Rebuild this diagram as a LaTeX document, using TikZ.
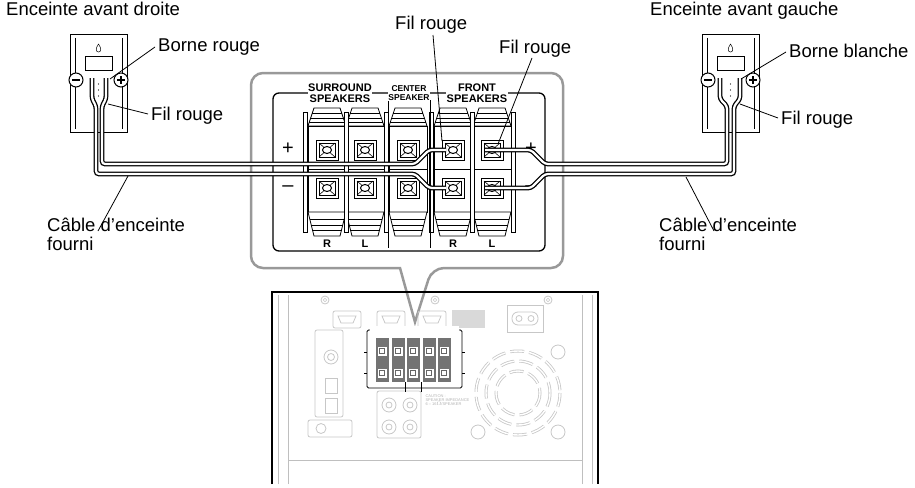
\documentclass[tikz,border=0pt]{standalone}
\usepackage{fontspec}
\setmainfont{Liberation Sans}
\begin{document}
\begin{tikzpicture}[x=1pt,y=-1pt,
  lbl/.style={font=\fontsize{18.5}{19}\selectfont, inner sep=0pt, anchor=base west, align=left},
  lead/.style={line width=0.8pt},
  wire/.style={draw=black, double=white, double distance=2.2pt, line width=1.3pt, rounded corners=3pt},
  pnl/.style={font=\fontsize{11}{10.5}\selectfont\bfseries, inner sep=0.5pt, fill=white, align=center},
  lt/.style={draw=black!22, line width=0.8pt},
  ]
\useasboundingbox (0,0) rectangle (915,487);

% ---------------- speakers ----------------
\foreach \sx/\nm in {70/spL,702/spR}{
  \begin{scope}[shift={(\sx,0)}]
  \draw[line width=1pt] (0,35) rectangle (57,132);
  \draw[line width=0.6pt] (5,38) -- (5,129) (52,38) -- (52,129);
  \draw[line width=0.6pt] (15,56) rectangle (42,70);
  \draw[line width=0.5pt] (28.5,44) .. controls (25,49) and (26,52) .. (28.5,52) .. controls (31,52) and (32,49) .. (28.5,44);
  \draw[line width=1pt, fill=white] (6,80) circle (7);
  \draw[line width=1.4pt] (2,80) -- (10,80);
  \draw[line width=1pt, fill=white] (51,80) circle (7);
  \draw[line width=1.4pt] (47,80) -- (55,80) (51,76) -- (51,84);
  \foreach \yy in {84,90,96}{\fill (28.5,\yy) circle (0.6);}
  \end{scope}}
\coordinate (spL) at (98,80);
\coordinate (spR) at (730,80);

% ---------------- panel callout ----------------
\draw[black!40, line width=2.5pt] [rounded corners=12pt] (400,268) -- (251,268) -- (251,73) -- (563,73) -- (563,268) -- (432,268) [sharp corners] -- (415,322) -- cycle;
\draw[line width=1.3pt, rounded corners=6pt] (273,93) rectangle (545,251);

% terminals
\foreach \cx in {327,365,408,453,492}{
  \begin{scope}[shift={(\cx,0)}]
  \draw[line width=0.8pt, fill=white] (-13,108) -- (13,108) -- (19,126) -- (-19,126) -- cycle;
  \foreach \yy/\w in {113/15,118/17,122/18}{\draw[line width=0.5pt] (-\w,\yy) -- (\w,\yy);}
  \draw[line width=0.8pt] (-19,126) rectangle (19,212);
  \draw[line width=0.8pt] (-19,169) -- (19,169);
  \draw[line width=0.8pt, fill=white] (-19,212) -- (19,212) -- (13,236) -- (-13,236) -- cycle;
  \foreach \yy/\w in {219/17,225/16,230/15}{\draw[line width=0.5pt] (-\w,\yy) -- (\w,\yy);}
  \foreach \yy in {150,188}{
    \draw[line width=0.9pt] (-11,\yy-10) rectangle (11,\yy+10);
    \draw[line width=0.5pt] (-8,\yy-7) rectangle (8,\yy+7);
    \draw[line width=0.6pt] (-8,\yy-7) -- (8,\yy+7) (-8,\yy+7) -- (8,\yy-7);
    \draw[line width=1pt, fill=white] (0,\yy) ellipse (4.5 and 3.5);}
  \end{scope}}
\foreach \cx in {305,346,386,431,472,513}{
  \draw[line width=0.8pt, fill=white] (\cx-2,112) rectangle (\cx+2,232);}
\draw[line width=1pt] (388,100) -- (388,248) (430,100) -- (430,248);

\node[pnl] (sur) at (340,93) {SURROUND\\SPEAKERS};
\node[pnl, font=\fontsize{8.5}{9}\selectfont\bfseries] (cen) at (409,93) {CENTER\\SPEAKER};
\node[pnl] (fro) at (477,93) {FRONT\\SPEAKERS};
\node[font=\fontsize{20}{20}\selectfont] (pp1) at (288,149) {+};
\node[font=\fontsize{20}{20}\selectfont] (mm1) at (288,189) {--};
\node[font=\fontsize{20}{20}\selectfont] (pp2) at (531,149) {+};
\node[font=\fontsize{20}{20}\selectfont] (mm2) at (531,189) {--};
\foreach \cx/\t/\n in {327/R/r1,365/L/l1,453/R/r2,492/L/l2}{
  \node[font=\fontsize{11}{11}\selectfont\bfseries] (\n) at (\cx,244) {\t};}

% ---------------- cables ----------------
\draw[wire] (92,78) -- (92,99) -- (96,106) -- (96,174) -- (415,174) -- (429,188) -- (446,188);
\draw[wire] (106,78) -- (106,99) -- (102,106) -- (102,164) -- (415,164) -- (429,150) -- (446,150);
\draw[wire] (720,78) -- (720,99) -- (727,106) -- (727,164) -- (545,164) -- (531,150) -- (485,150);
\draw[wire] (740,78) -- (740,99) -- (734,106) -- (734,174) -- (545,174) -- (531,188) -- (485,188);

% ---------------- device rear ----------------
\draw[line width=1.4pt] (272,484) -- (272,292) -- (598,292) -- (598,484);
\draw[black!25, line width=1pt] (278,484) -- (278,295) (288,484) -- (288,295) (582,484) -- (582,295) (592,484) -- (592,295);
\draw[black!25, line width=1pt] (288,460) -- (582,460);
\foreach \p in {(325,300),(435,300),(548,300)}{\draw[lt] \p circle (4); \draw[lt,line width=0.5pt] \p circle (1.8);}
\foreach \hx in {333,377,418}{\draw[lt, rounded corners=2pt] (\hx,311) rectangle (\hx+28,328); \draw[lt] (\hx+5,316) -- (\hx+23,316) -- (\hx+20,323) -- (\hx+8,323) -- cycle;}
\fill[black!15] (452,310) rectangle (485,328);
\draw[lt] (507,305) rectangle (543,332);
\draw[lt, rounded corners=6pt] (512,312) rectangle (538,325);
\draw[lt] (519,318.5) circle (3) (531,318.5) circle (3);
\draw[lt, rounded corners=2pt] (315,330) rectangle (343,417);
\draw[lt] (331,357) circle (7) (331,357) circle (3.5);
\draw[lt] (325,378) rectangle (337,393) (325,398) rectangle (337,413);
\draw[lt, rounded corners=2pt] (308,420) rectangle (352,437);
\draw[lt] (321,428.5) circle (5);
\draw[lt, rounded corners=2pt] (377,391) rectangle (421,438);
\foreach \p in {(389,405),(410,405),(389,427),(410,427)}{\draw[lt] \p circle (7); \draw[lt] \p circle (3);}
\foreach \p in {(558,352),(478,432),(558,432)}{\draw[lt] \p circle (7);}
\foreach \r in {22,32,42}{
  \draw[lt, line width=3pt, dash pattern=on 14pt off 5pt] (518,393) circle (\r);
  \draw[white, line width=1.4pt, dash pattern=on 14pt off 5pt] (518,393) circle (\r);}
\node[black!30, font=\fontsize{4}{4}\selectfont, align=left, anchor=west] (caut) at (422,400) {CAUTION :\\SPEAKER IMPEDANCE\\6 -- 16$\Omega$/SPEAKER};
% mini terminal block
\draw[line width=0.9pt, rounded corners=1.5pt] (367,330) rectangle (462,388);
\fill[white] (370,326) rectangle (459,334);
\foreach \cx in {382,398,413,429,444}{
  \fill[black!55] (\cx-6.5,338) rectangle (\cx+6.5,382);
  \foreach \yy in {351,373}{\fill[white] (\cx-4.5,\yy-4.5) rectangle (\cx+4.5,\yy+4.5); \draw[black!60,line width=0.5pt] (\cx-2.5,\yy-2.5) rectangle (\cx+2.5,\yy+2.5);}}
\draw[line width=0.5pt] (367,352) -- (364,352) (367,373) -- (364,373) (462,352) -- (465,352) (462,373) -- (465,373);
\draw[line width=0.7pt] (421,382) -- (421,392) (405,382) -- (405,392);

% ---------------- labels ----------------
\node[lbl] (t1) at (6,16) {Enceinte avant droite};
\node[lbl] (t2) at (650,16) {Enceinte avant gauche};
\node[lbl] (bR) at (158,52) {Borne rouge};
\node[lbl] (bB) at (789,57) {Borne blanche};
\node[lbl] (fL) at (151,120) {Fil rouge};
\node[lbl] (fR) at (781,124) {Fil rouge};
\node[lbl] (fC1) at (395,30) {Fil rouge};
\node[lbl] (fC2) at (499,53) {Fil rouge};
\node[lbl] (cL) at (47,250) {Câble d’enceinte\\fourni};
\node[lbl] (cR) at (659,250) {Câble d’enceinte\\fourni};

\coordinate (a1) at (110,79); \draw[lead] (a1) -- (155,47);
\coordinate (a2) at (741,79); \draw[lead] (a2) -- (786,52);
\coordinate (a3) at (108,104); \draw[lead] (a3) -- (148,114);
\coordinate (a4) at (740,104); \draw[lead] (a4) -- (778,118);
\coordinate (a5) at (128,176); \draw[lead] (a5) -- (98,231);
\coordinate (a6) at (686,177); \draw[lead] (a6) -- (714,231);
\coordinate (a7) at (442,141); \draw[lead] (a7) -- (433,35);
\coordinate (a8) at (498,144); \draw[lead] (a8) -- (532,58);
\end{tikzpicture}
\end{document}
